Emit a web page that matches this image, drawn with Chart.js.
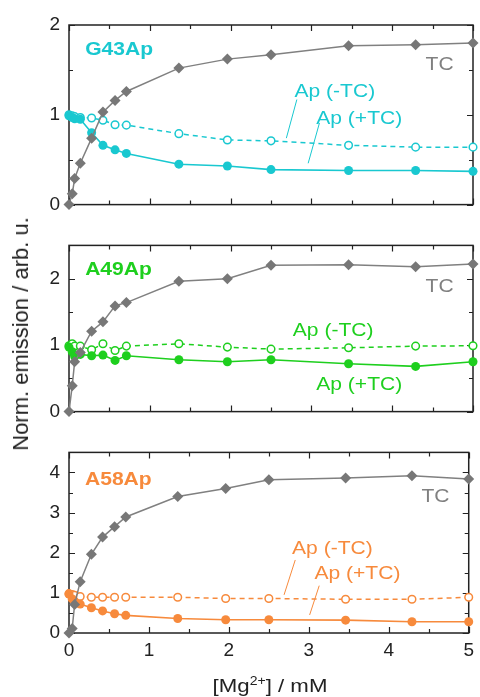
<!DOCTYPE html>
<html>
<head>
<meta charset="utf-8">
<script src="https://cdn.jsdelivr.net/npm/chart.js@4/dist/chart.umd.min.js"></script>
<style>
  html, body { margin: 0; padding: 0; background: #fff; }
  #fig { position: relative; width: 480px; height: 697px; font-family: "Liberation Sans", Arial, sans-serif; color: #222; }
  #fig canvas { position: absolute; left: 0; }
  .ytitle { position: absolute; left: 21px; top: 334px; transform: translate(-50%, -50%) rotate(-90deg); white-space: nowrap; font-size: 22px; }
  .xtitle { position: absolute; left: 270px; top: 686px; transform: translate(-50%, -50%) scaleX(1.17); white-space: nowrap; font-size: 19px; }
  .xtitle sup { font-size: 12px; vertical-align: 7px; line-height: 0; }
</style>
</head>
<body>
<div id="fig">
  <canvas id="p1" width="480" height="225" style="top:0"></canvas>
  <canvas id="p2" width="480" height="207" style="top:225px"></canvas>
  <canvas id="p3" width="480" height="265" style="top:432px"></canvas>
  <div class="ytitle">Norm. emission / arb. u.</div>
  <div class="xtitle">[Mg<sup>2+</sup>] / mM</div>
</div>
<script>
// Mg2+ titration points shared by all three constructs (mM)
const MG_MM = [0, 0.04, 0.07, 0.14, 0.28, 0.42, 0.57, 0.71, 1.36, 1.96, 2.5, 3.46, 4.29, 5];

// G43Ap
const G43_TC = [0, 0.12, 0.29, 0.46, 0.74, 1.03, 1.16, 1.26, 1.52, 1.62, 1.67, 1.77, 1.78, 1.80];
const G43_AP_MINUS = [1.0, 0.99, 0.98, 0.97, 0.965, 0.94, 0.89, 0.885, 0.79, 0.72, 0.71, 0.66, 0.64, 0.64];
const G43_AP_PLUS = [0.99, 0.97, 0.955, 0.95, 0.80, 0.66, 0.61, 0.57, 0.45, 0.43, 0.39, 0.38, 0.38, 0.37];

// A49Ap
const A49_TC = [0, 0.39, 0.75, 0.89, 1.21, 1.35, 1.59, 1.64, 1.96, 2.0, 2.20, 2.21, 2.18, 2.22];
const A49_AP_MINUS = [0.99, 1.02, 0.985, 0.985, 0.93, 1.02, 0.92, 0.985, 1.02, 0.97, 0.94, 0.96, 0.985, 0.99];
const A49_AP_PLUS = [0.97, 0.90, 0.83, 0.86, 0.84, 0.85, 0.77, 0.84, 0.78, 0.75, 0.78, 0.72, 0.68, 0.75];

// A58Ap
const A58_TC = [0, 0.11, 0.71, 1.28, 1.96, 2.39, 2.65, 2.89, 3.40, 3.60, 3.82, 3.86, 3.92, 3.84];
const A58_AP_MINUS = [0.98, 0.96, 0.94, 0.91, 0.89, 0.89, 0.89, 0.89, 0.89, 0.86, 0.86, 0.84, 0.84, 0.89];
const A58_AP_PLUS = [0.97, 0.85, 0.78, 0.72, 0.63, 0.55, 0.48, 0.44, 0.36, 0.33, 0.33, 0.32, 0.28, 0.28];

const GREY = '#808080';
const CYAN = '#19c8d0';
const GREEN = '#1ecf1e';
const ORANGE = '#f78a3c';
const INK = '#222';
const FONT = '"Liberation Sans", Arial, sans-serif';
const STRETCH = 1.17;

const xy = (values) => MG_MM.map((x, i) => ({ x, y: values[i] }));

function seriesDatasets(tc, minus, plus, color) {
  return [
    {
      data: xy(tc), borderColor: GREY, borderWidth: 1.5,
      pointStyle: 'rectRot', pointRadius: 5.5, pointBackgroundColor: '#777', pointBorderColor: '#777',
      pointBorderWidth: 0, clip: false
    },
    {
      data: xy(plus), borderColor: color, borderWidth: 1.6,
      pointStyle: 'circle', pointRadius: 4.5, pointBackgroundColor: color, pointBorderColor: color,
      pointBorderWidth: 0, clip: false
    },
    {
      data: xy(minus), borderColor: color, borderWidth: 1.5, borderDash: [5, 4],
      pointStyle: 'circle', pointRadius: 3.8, pointBackgroundColor: '#fff', pointBorderColor: color,
      pointBorderWidth: 1.5, clip: false
    }
  ];
}

// closed frame with inward major/minor ticks on all four sides
const frameTicks = {
  id: 'frameTicks',
  beforeDatasetsDraw(chart) {
    const { ctx, chartArea: a, scales } = chart;
    ctx.save();
    ctx.strokeStyle = INK;
    ctx.lineWidth = 1.5;
    ctx.strokeRect(a.left, a.top, a.right - a.left, a.bottom - a.top);
    ctx.lineWidth = 1.2;
    ctx.beginPath();
    for (let v = scales.x.min; v <= scales.x.max + 1e-9; v += 0.5) {
      const px = Math.round(scales.x.getPixelForValue(v)) + 0.5;
      const len = Number.isInteger(v) ? 6 : 4;
      ctx.moveTo(px, a.bottom); ctx.lineTo(px, a.bottom - len);
      ctx.moveTo(px, a.top); ctx.lineTo(px, a.top + len);
    }
    for (let v = scales.y.min; v <= scales.y.max + 1e-9; v += 0.5) {
      const py = Math.round(scales.y.getPixelForValue(v)) + 0.5;
      const len = Number.isInteger(v) ? 6 : 4;
      ctx.moveTo(a.left, py); ctx.lineTo(a.left + len, py);
      ctx.moveTo(a.right, py); ctx.lineTo(a.right - len, py);
    }
    ctx.stroke();
    ctx.restore();
  }
};

// panel name, curve labels and leader lines, placed in data units
const annotations = {
  id: 'annotations',
  afterDatasetsDraw(chart, args, opts) {
    const { ctx, scales } = chart;
    const px = (x) => scales.x.getPixelForValue(x);
    const py = (y) => scales.y.getPixelForValue(y);
    ctx.save();
    (opts.leaders || []).forEach((l) => {
      ctx.strokeStyle = l.color;
      ctx.lineWidth = 1;
      ctx.beginPath();
      ctx.moveTo(px(l.from[0]), py(l.from[1]));
      ctx.lineTo(px(l.to[0]), py(l.to[1]));
      ctx.stroke();
    });
    ctx.textBaseline = 'middle';
    (opts.labels || []).forEach((t) => {
      ctx.save();
      ctx.translate(px(t.x), py(t.y));
      ctx.scale(STRETCH, 1);
      ctx.font = (t.bold ? 'bold ' : '') + t.size + 'px ' + FONT;
      ctx.fillStyle = t.color;
      ctx.textAlign = t.align || 'left';
      ctx.fillText(t.text, 0, 0);
      ctx.restore();
    });
    ctx.restore();
  }
};

// whole-number labels only, including the last one below a half-step max
function integerTicks(scale) {
  const ticks = [];
  for (let v = Math.ceil(scale.min); v <= Math.floor(scale.max); v++) ticks.push({ value: v });
  scale.ticks = ticks;
}

function makePanel(id, cfg) {
  const canvas = document.getElementById(id);
  return new Chart(canvas.getContext('2d'), {
    type: 'line',
    data: { datasets: cfg.datasets },
    options: {
      responsive: false,
      animation: false,
      devicePixelRatio: 1,
      layout: { padding: { top: cfg.padTop, bottom: cfg.padBottom, left: 0, right: 7 } },
      elements: { line: { tension: 0 } },
      plugins: {
        legend: { display: false },
        tooltip: { enabled: false },
        annotations: { labels: cfg.labels, leaders: cfg.leaders }
      },
      scales: {
        x: {
          type: 'linear', min: 0, max: 5,
          display: cfg.showX,
          grid: { display: false, drawTicks: false },
          border: { display: false },
          ticks: { stepSize: 1, padding: 6, maxRotation: 0, color: INK, font: { family: FONT, size: 19 } },
          afterBuildTicks: integerTicks,
          afterFit: (scale) => { if (cfg.showX) scale.height = cfg.xHeight; }
        },
        y: {
          type: 'linear', min: 0, max: cfg.yMax,
          grid: { display: false, drawTicks: false },
          border: { display: false },
          ticks: { stepSize: 1, padding: 9, color: INK, font: { family: FONT, size: 19 } },
          afterBuildTicks: integerTicks,
          afterFit: (scale) => { scale.width = 69; }
        }
      }
    },
    plugins: [frameTicks, annotations]
  });
}

makePanel('p1', {
  datasets: seriesDatasets(G43_TC, G43_AP_MINUS, G43_AP_PLUS, CYAN),
  yMax: 2, padTop: 25, padBottom: 10, showX: false,
  labels: [
    { text: 'G43Ap', x: 0.2, y: 1.72, color: CYAN, bold: true, size: 18 },
    { text: 'TC', x: 4.76, y: 1.55, color: GREY, size: 18, align: 'right' },
    { text: 'Ap (-TC)', x: 2.79, y: 1.25, color: CYAN, size: 18 },
    { text: 'Ap (+TC)', x: 3.06, y: 0.95, color: CYAN, size: 18 }
  ],
  leaders: [
    { from: [2.82, 1.17], to: [2.69, 0.74], color: CYAN },
    { from: [3.10, 0.91], to: [2.96, 0.46], color: CYAN }
  ]
});

makePanel('p2', {
  datasets: seriesDatasets(A49_TC, A49_AP_MINUS, A49_AP_PLUS, GREEN),
  yMax: 2.5, padTop: 10, padBottom: 10, showX: false,
  labels: [
    { text: 'A49Ap', x: 0.2, y: 2.13, color: GREEN, bold: true, size: 18 },
    { text: 'TC', x: 4.76, y: 1.88, color: GREY, size: 18, align: 'right' },
    { text: 'Ap (-TC)', x: 2.77, y: 1.21, color: GREEN, size: 18 },
    { text: 'Ap (+TC)', x: 3.06, y: 0.40, color: GREEN, size: 18 }
  ],
  leaders: []
});

makePanel('p3', {
  datasets: seriesDatasets(A58_TC, A58_AP_MINUS, A58_AP_PLUS, ORANGE),
  yMax: 4.5, padTop: 12, padBottom: 0, showX: true, xHeight: 64,
  labels: [
    { text: 'A58Ap', x: 0.2, y: 3.81, color: ORANGE, bold: true, size: 18 },
    { text: 'TC', x: 4.76, y: 3.40, color: GREY, size: 18, align: 'right' },
    { text: 'Ap (-TC)', x: 2.79, y: 2.10, color: ORANGE, size: 18 },
    { text: 'Ap (+TC)', x: 3.07, y: 1.46, color: ORANGE, size: 18 }
  ],
  leaders: [
    { from: [2.83, 1.82], to: [2.69, 0.95], color: ORANGE },
    { from: [3.13, 1.18], to: [3.01, 0.45], color: ORANGE }
  ]
});
</script>
</body>
</html>
